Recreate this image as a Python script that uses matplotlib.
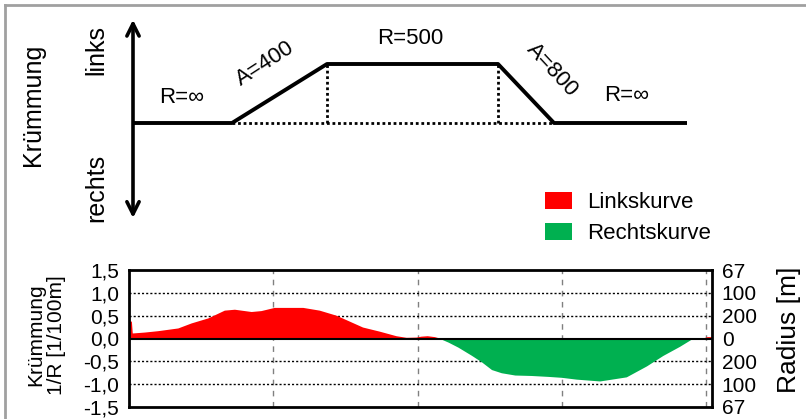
import numpy as np
import matplotlib
matplotlib.use('Agg')
import matplotlib.pyplot as plt
from matplotlib.patches import Patch
from matplotlib.lines import Line2D

plt.rcParams['font.family'] = ['Liberation Sans', 'DejaVu Sans']

# Schema oben: Krümmungsbild (Stationen schematisch)
plan_x = [0, 99, 194, 365, 421, 554]
plan_k = [0, 0, 1, 1, 0, 0]
plan_labels = ['R=∞', 'A=400', 'R=500', 'A=800', 'R=∞']

# Krümmungsband unten (Station in m, Krümmung in 1/100m)
station = np.array([0, 10, 13, 55, 101, 171, 217, 275, 332, 367, 425, 459, 505, 546,
                    604, 661, 719, 765, 811, 869, 927, 962, 996, 1013, 1035, 1060,
                    1077, 1106, 1140, 1187, 1221, 1256, 1290, 1337, 1394, 1452, 1498,
                    1550, 1631, 1723, 1793, 1850, 1908, 1952, 1990, 2005, 2020])
curv = np.array([0.37, 0.37, 0.11, 0.13, 0.16, 0.22, 0.33, 0.44, 0.61, 0.63, 0.58,
                 0.60, 0.67, 0.67, 0.67, 0.61, 0.50, 0.37, 0.24, 0.15, 0.05, 0.015,
                 0.02, 0.04, 0.05, 0.03, 0.0, -0.08, -0.19, -0.37, -0.51, -0.68,
                 -0.75, -0.80, -0.81, -0.83, -0.85, -0.89, -0.93, -0.84, -0.60,
                 -0.37, -0.17, 0.0, 0.0, 0.03, 0.03])

k_ticks = [-1.5, -1.0, -0.5, 0.0, 0.5, 1.0, 1.5]
k_ticklabels = ['-1,5', '-1,0', '-0,5', '0,0', '0,5', '1,0', '1,5']
r_ticklabels = ['67', '100', '200', '0', '200', '100', '67']
x_grid = [0, 500, 1000, 1500, 2000]

W, H = 806, 419
fig = plt.figure(figsize=(W / 100, H / 100), dpi=100)

def rect(l, t, r, b):
    return [l / W, 1 - b / H, (r - l) / W, (b - t) / H]

# --- oberes Schema ---
ax1 = fig.add_axes(rect(100, 8, 720, 230))
ax1.set_xlim(-33, 587)
ax1.set_ylim((123 - 230) / 59, (123 - 8) / 59)
ax1.axis('off')

lw_s = 2.8
ax1.plot(plan_x, plan_k, color='black', lw=lw_s, solid_capstyle='butt', zorder=3)
ax1.plot([plan_x[1], plan_x[4]], [0, 0], color='black', lw=2, ls=(0, (1, 1)), zorder=2)
for xv in [plan_x[2], plan_x[3]]:
    ax1.plot([xv, xv], [0, 1], color='black', lw=2, ls=(0, (1, 1)), zorder=2)
ax1.annotate('', xy=(0, 1.75), xytext=(0, -1.61),
             arrowprops=dict(arrowstyle='<->', lw=2.6, color='black', mutation_scale=22,
                             shrinkA=0, shrinkB=0))

fs_top = 16
ax1.text(49, 0.44, plan_labels[0], fontsize=fs_top, ha='center', va='center')
ax1.text(132, 1.0, plan_labels[1], fontsize=fs_top, ha='center', va='center', rotation=33)
ax1.text(277, 1.44, plan_labels[2], fontsize=fs_top, ha='center', va='center')
ax1.text(419, 0.90, plan_labels[3], fontsize=fs_top, ha='center', va='center', rotation=-47)
ax1.text(494, 0.46, plan_labels[4], fontsize=fs_top, ha='center', va='center')

fig.text(33 / W, 1 - 105 / H, 'Krümmung', rotation=90, fontsize=18, ha='center', va='center')
fig.text(96 / W, 1 - 50 / H, 'links', rotation=90, fontsize=18, ha='center', va='center')
fig.text(96 / W, 1 - 188 / H, 'rechts', rotation=90, fontsize=18, ha='center', va='center')

# --- unteres Krümmungsband ---
ax2 = fig.add_axes(rect(129, 270, 712, 407))
ax2.set_xlim(0, 2020)
ax2.set_ylim(-1.5, 1.5)
for xv in x_grid:
    ax2.axvline(xv, color='#808080', lw=1, ls=(0, (4, 4)), zorder=1)
for yv in [-1.0, -0.5, 0.5, 1.0]:
    ax2.axhline(yv, color='black', lw=1, ls=(0, (1.5, 1.5)), zorder=1)
ax2.fill_between(station, curv, 0, where=curv >= 0, interpolate=True,
                 color='#FF0000', lw=0, zorder=2)
ax2.fill_between(station, curv, 0, where=curv <= 0, interpolate=True,
                 color='#00B050', lw=0, zorder=2)
ax2.axhline(0, color='black', lw=1.5, zorder=3)
ax2.set_xticks([])
ax2.set_yticks(k_ticks)
ax2.set_yticklabels(k_ticklabels)
ax2.tick_params(axis='y', length=0, pad=7, labelsize=15)
for sp in ax2.spines.values():
    sp.set_linewidth(2)
    sp.set_zorder(4)

ax3 = ax2.twinx()
ax3.set_ylim(-1.5, 1.5)
ax3.set_yticks(k_ticks)
ax3.set_yticklabels(r_ticklabels)
ax3.tick_params(axis='y', length=0, pad=7, labelsize=15)
for sp in ax3.spines.values():
    sp.set_visible(False)

fig.text(46 / W, 1 - 335 / H, 'Krümmung\n1/R [1/100m]', rotation=90, fontsize=15,
         ha='center', va='center', linespacing=1.15)
fig.text(789 / W, 1 - 330 / H, 'Radius [m]', rotation=90, fontsize=19,
         ha='center', va='center')

# Legende
handles = [Patch(facecolor='#FF0000', edgecolor='none', label='Linkskurve'),
           Patch(facecolor='#00B050', edgecolor='none', label='Rechtskurve')]
fig.legend(handles=handles, loc='upper left', bbox_to_anchor=(545 / W, 1 - 192 / H),
           frameon=False, fontsize=16, handlelength=1.2, handleheight=0.8,
           handletextpad=0.7, labelspacing=0.45, borderpad=0, borderaxespad=0)

# grauer Rahmen
fig.add_artist(Line2D([5 / W, 1], [1 - 5 / H, 1 - 5 / H], color='#A0A0A0', lw=2))
fig.add_artist(Line2D([5 / W, 5 / W], [0, 1 - 5 / H], color='#A0A0A0', lw=2))

fig.savefig('out.png', dpi=100)
